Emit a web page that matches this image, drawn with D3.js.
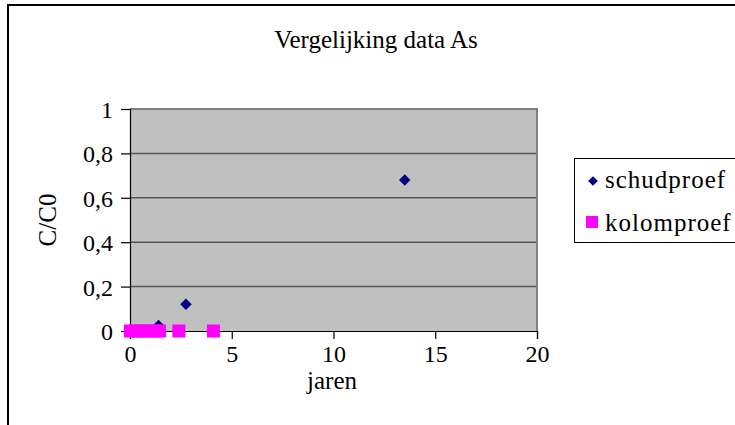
<!DOCTYPE html>
<html>
<head>
<meta charset="utf-8">
<script src="https://cdn.jsdelivr.net/npm/d3@7"></script>
</head>
<body style="margin:0">
<svg id="chart" width="735" height="425"></svg>
<script>
// Series: shake test (schudproef) and column test (kolomproef), C/C0 against years
const schudJaren = [1.4, 2.75, 13.5];
const schudC = [0.025, 0.12, 0.68];
const kolomJaren = [0.02, 0.3, 0.6, 0.9, 1.2, 1.45, 2.4, 4.1];
const kolomC = [0, 0, 0, 0, 0, 0, 0, 0];
const xTicks = [0, 5, 10, 15, 20];
const yTicks = [0, 0.2, 0.4, 0.6, 0.8, 1];
const seriesNames = ["schudproef", "kolomproef"];

const FONT = '"Liberation Serif"';
const svg = d3.select("#chart");
const fmt = v => String(v).replace(".", ",");

// Chart-area frame
svg.append("rect")
  .attr("x", 8).attr("y", 5).attr("width", 900).attr("height", 600)
  .attr("fill", "#fff").attr("stroke", "#000").attr("stroke-width", 2);

const x = d3.scaleLinear().domain([0, 20]).range([130, 537]);
const y = d3.scaleLinear().domain([0, 1]).range([331, 109]);

// Plot area
svg.append("rect")
  .attr("x", x(0)).attr("y", y(1))
  .attr("width", x(20) - x(0)).attr("height", y(0) - y(1))
  .attr("fill", "#c0c0c0");

// Horizontal gridlines
svg.append("g").selectAll("line")
  .data(yTicks.filter(d => d > 0 && d < 1))
  .join("line")
  .attr("x1", x(0)).attr("x2", x(20))
  .attr("y1", d => y(d)).attr("y2", d => y(d))
  .attr("stroke", "#555").attr("stroke-width", 1.5);

// Top and right plot border
svg.append("path")
  .attr("d", `M${x(0)},${y(1)}H${x(20)}V${y(0)}`)
  .attr("fill", "none").attr("stroke", "#808080").attr("stroke-width", 2);

// Axes
const yAxis = d3.axisLeft(y).tickValues(yTicks).tickFormat(fmt).tickSize(9).tickPadding(8);
const xAxis = d3.axisBottom(x).tickValues(xTicks).tickFormat(fmt).tickSize(8).tickPadding(6);

const gy = svg.append("g").attr("transform", `translate(${x(0)},0)`).call(yAxis);
const gx = svg.append("g").attr("transform", `translate(0,${y(0)})`).call(xAxis);
[gx, gy].forEach(g => {
  g.attr("font-family", null).attr("font-size", null);
  g.select(".domain").attr("stroke", "#000").attr("stroke-width", 1.2);
  g.selectAll(".tick line").attr("stroke", "#000").attr("stroke-width", 1.2);
  g.selectAll(".tick text")
    .attr("font-size", 24).style("font-family", FONT).attr("fill", "#000");
});
gy.selectAll(".tick text").attr("dy", "0.35em");

// Markers
svg.append("g").selectAll("path")
  .data(schudJaren.map((v, i) => [v, schudC[i]]))
  .join("path")
  .attr("d", d3.symbol().type(d3.symbolDiamond2).size(84))
  .attr("transform", d => `translate(${x(d[0])},${y(d[1])})`)
  .attr("fill", "#000080");

const sq = 13;
svg.append("g").selectAll("rect")
  .data(kolomJaren.map((v, i) => [v, kolomC[i]]))
  .join("rect")
  .attr("x", d => x(d[0]) - sq / 2).attr("y", d => y(d[1]) - sq / 2)
  .attr("width", sq).attr("height", sq)
  .attr("fill", "#ff00ff");

// Titles
const label = (tx, ty, txt, rot) => svg.append("text")
  .attr("transform", `translate(${tx},${ty})` + (rot ? ` rotate(${rot})` : ""))
  .attr("text-anchor", "middle")
  .attr("font-size", 25).style("font-family", FONT)
  .attr("fill", "#000").text(txt);
label(376, 48, "Vergelijking data As");
label(332, 389, "jaren");
label(56, 220, "C/C0", -90);

// Legend
const lg = svg.append("g");
lg.append("rect").attr("x", 574.5).attr("y", 158.5).attr("width", 300).attr("height", 84)
  .attr("fill", "#fff").attr("stroke", "#000").attr("stroke-width", 1);
lg.append("path").attr("d", d3.symbol().type(d3.symbolDiamond2).size(60))
  .attr("transform", "translate(593,181)").attr("fill", "#000080");
lg.append("rect").attr("x", 586).attr("y", 216).attr("width", 12).attr("height", 12)
  .attr("fill", "#ff00ff");
lg.selectAll("text.lbl").data(seriesNames).join("text")
  .attr("class", "lbl")
  .attr("x", 605).attr("y", (d, i) => 188 + i * 43)
  .attr("font-size", 25).style("font-family", FONT).attr("letter-spacing", 1)
  .attr("fill", "#000")
  .text(d => d);
</script>
</body>
</html>
